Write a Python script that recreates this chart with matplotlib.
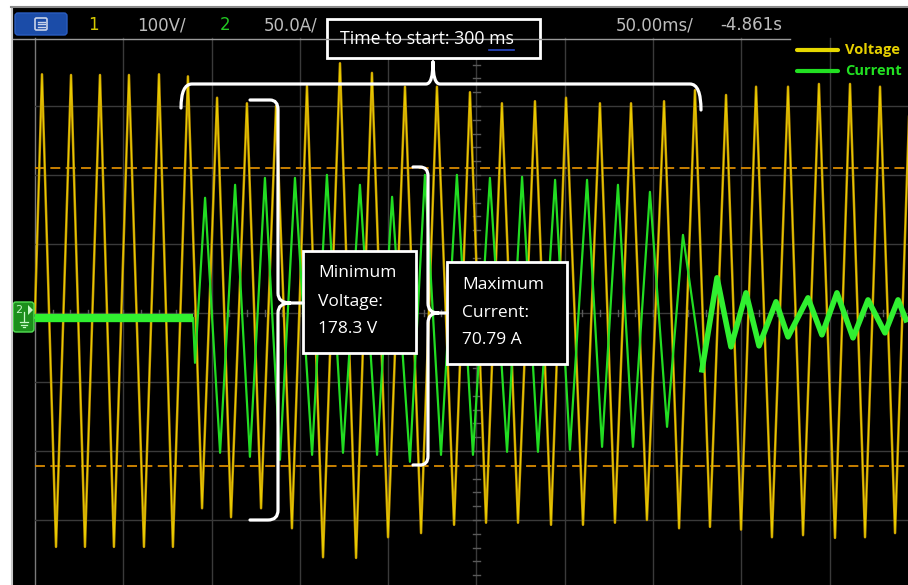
import numpy as np
import matplotlib.pyplot as plt
from matplotlib.patches import Rectangle, FancyBboxPatch, PathPatch
from matplotlib.path import Path

# scope settings
volts_per_div = 100.0
amps_per_div = 50.0
ms_per_div = 50.0
ch2_offset = -0.07          # divisions, current trace sits a bit below centre

# Voltage trace, peaks/troughs (ms, V)
volt_t = [0.0, 3.96, 11.9, 20.4, 28.3, 36.8, 44.7, 53.2, 61.7, 70.2, 78.1,
          86.6, 94.6, 103.1, 111.0, 120.0, 128.0, 136.5, 145.5, 154.0, 163.1,
          172.7, 181.8, 190.8, 199.9, 209.5, 218.6, 227.6, 237.3, 246.3, 255.4,
          264.4, 273.5, 283.1, 292.2, 300.7, 310.3, 319.9, 328.4, 337.5, 346.5,
          356.2, 364.7, 373.7, 382.2, 391.3, 399.8, 408.3, 417.3, 426.4, 434.9,
          443.9, 453.0, 461.5, 470.0, 478.5, 487.0, 495.5]
volt_v = [0, 346, -339, 345, -339, 345, -339, 345, -339, 346, -339,
          343, -283, 312, -296, 304, -283, 300, -312, 329, -354,
          362, -355, 348, -325, 328, -319, 328, -307, 320, -304,
          304, -304, 307, -307, 312, -307, 304, -304, 304, -300,
          307, -312, 323, -310, 316, -314, 328, -325, 328, -322,
          332, -326, 332, -325, 328, -319, 330]

# Current trace (ms, A)
curr_t = [0.0, 89.5, 90.6, 96.3, 104.8, 113.3, 121.7, 130.2, 138.7, 147.2,
          156.9, 165.3, 174.4, 184.0, 193.7, 202.2, 212.3, 220.8, 229.9, 238.9,
          248.0, 257.6, 267.3, 275.8, 284.8, 294.5, 302.9, 312.6, 321.1, 330.1,
          338.6, 348.2, 357.9, 366.9, 377.7, 386.2, 394.1, 402.6, 410.0, 419.6,
          426.4, 437.7, 445.6, 454.1, 463.2, 471.7, 481.3, 488.7, 493.2]
curr_a = [0, 0, -32.6, 87.0, -97.8, 96.4, -100.7, 101.4, -102.9, 101.4,
          -99.3, 103.6, -97.8, 96.4, -99.3, 87.7, -104.3, 103.6, -99.3, 103.6,
          -99.3, 101.4, -97.1, 102.2, -97.1, 100.0, -95.6, 100.0, -93.5, 96.4,
          -93.5, 91.3, -79.0, 60.1, -37.7, 29.0, -21.0, 18.1, -20.3, 11.6,
          -13.8, 14.5, -12.3, 18.1, -14.5, 13.0, -10.9, 13.0, -1.4]

cursor_levels = [2.10, -2.22]   # orange cursors, divisions

# screen geometry (pixels)
W, H = 908, 585
X0, Y0 = 35, 313          # t=0, 0 div
PXX, PXY = 88.3, 69.0     # pixels per division
SCR_L, SCR_T = 11, 7      # black screen starts here

fig = plt.figure(figsize=(W / 100, H / 100), dpi=100, facecolor='white')

ax = fig.add_axes([SCR_L / W, 0, (W - SCR_L) / W, (H - SCR_T) / H])
ax.set_facecolor('black')
ax.set_xlim((SCR_L - X0) / PXX * ms_per_div, (W - X0) / PXX * ms_per_div)
ax.set_ylim((Y0 - H) / PXY, (Y0 - SCR_T) / PXY)
ax.set_axis_off()
ax.add_patch(Rectangle((0, 0), 1, 1, transform=ax.transAxes, color='black', zorder=0))

top_div = (Y0 - 38) / PXY
# grid
for i in range(10):
    c = '#7a7a7a' if i == 0 else '#3a3a3a'
    ax.plot([i * ms_per_div] * 2, [-5, top_div], color=c, lw=1, zorder=1)
for j in range(-3, 4):
    ax.plot([0, 600], [j, j], color='#3a3a3a', lw=1, zorder=1)
# centre-axis minor ticks
for k in np.arange(-4, 4.01, 0.2):
    ax.plot([5 * ms_per_div - 1.8, 5 * ms_per_div + 1.8], [k, k], color='#5a5a5a', lw=1, zorder=1)
for k in np.arange(0, 500, 10):
    ax.plot([k, k], [-0.05, 0.05], color='#5a5a5a', lw=1, zorder=1)

# cursors
for lvl in cursor_levels:
    ax.plot([0, 600], [lvl, lvl], color='#d98a00', lw=1.3, dashes=(5.5, 3), zorder=2)

vt = np.array(volt_t)
vv = np.array(volt_v) / volts_per_div
ax.plot(vt, vv, color='#c29400', lw=1.8, zorder=3)
ax.plot(vt, vv, color='#f0d800', lw=0.6, zorder=3)

ct = np.array(curr_t)
ca = np.array(curr_a) / amps_per_div + ch2_offset
ax.plot(ct, ca, color='#22dd22', lw=1.6, zorder=4)
ax.plot(ct[:2], ca[:2], color='#30f030', lw=6, zorder=4, solid_capstyle='butt')
tail = ct >= 377.7
ax.plot(ct[tail], ca[tail], color='#30f030', lw=4, zorder=4)

# ---- overlay in pixel coordinates ----
ov = fig.add_axes([0, 0, 1, 1], zorder=5)
ov.set_xlim(0, W)
ov.set_ylim(H, 0)
ov.set_axis_off()
ov.patch.set_alpha(0)

ov.plot([SCR_L + 0.5, SCR_L + 0.5], [SCR_T, H], color='#c8c8c8', lw=1.5)
ov.plot([SCR_L, W], [SCR_T, SCR_T], color='#8a8a8a', lw=1.5)
ov.plot([13, 790], [39, 39], color='#9a9a9a', lw=1)

# header
ov.add_patch(FancyBboxPatch((15, 13), 52, 22, boxstyle='round,pad=0,rounding_size=3',
                            fc='#1b4ca8', ec='#2a5cc0', lw=1))
ov.add_patch(FancyBboxPatch((35, 18), 12, 12, boxstyle='round,pad=0,rounding_size=1.5',
                            fc='none', ec='#c9d3ea', lw=1.2))
for yy in (21.5, 24, 26.5):
    ov.plot([37.5, 44.5], [yy, yy], color='#c9d3ea', lw=1)

hfont = ['Liberation Sans Narrow', 'DejaVu Sans']
header = [("1", 93, '#d4c800'), ("100V/", 161, '#bdbdbd'), ("2", 225, '#22c822'),
          ("50.0A/", 291, '#bdbdbd'), ("50.00ms/", 655, '#bdbdbd'), ("-4.861s", 751, '#bdbdbd')]
for txt, xx, col in header:
    ov.text(xx, 25, txt, color=col, fontsize=12, family=hfont, ha='center', va='center')

# legend
ov.plot([797, 838], [49.5, 49.5], color='#e6d800', lw=3, solid_capstyle='round')
ov.plot([797, 838], [71, 71], color='#22e022', lw=3, solid_capstyle='round')
ov.text(845, 50, "Voltage", color='#e6d000', fontsize=10.5, fontweight='bold', family='Open Sans', va='center')
ov.text(845, 71, "Current", color='#22e022', fontsize=10.5, fontweight='bold', family='Open Sans', va='center')

# ch2 ground marker
ov.add_patch(FancyBboxPatch((13, 302), 21, 30, boxstyle='round,pad=0,rounding_size=3',
                            fc='#1c8f1c', ec='#52e052', lw=1))
ov.text(19, 310, "2", color='#c8f8c8', fontsize=8, ha='center', va='center')
ov.plot([24, 24], [312, 322], color='#c8f8c8', lw=0.9)
for dx, yy in ((4, 322), (2.7, 324.5), (1.4, 327)):
    ov.plot([24 - dx, 24 + dx], [yy, yy], color='#c8f8c8', lw=0.9)
ov.add_patch(plt.Polygon([[28, 305], [33, 310], [28, 315]], closed=True, fc='#c8f8c8', ec='none'))

# annotation boxes
afont = 'Open Sans'
ov.add_patch(Rectangle((327, 19), 213, 39, fc='black', ec='white', lw=2))
t_main = ov.text(340, 39, "Time to start: 300 ms", color='white', fontsize=12.8, family=afont, va='center')
t_ms = ov.text(400, 300, "ms", fontsize=12.8, family=afont)
fig.canvas.draw()
r = fig.canvas.get_renderer()
inv = ov.transData.inverted()
bb = t_main.get_window_extent(r)
bm = t_ms.get_window_extent(r)
t_ms.remove()
x_end = inv.transform((bb.x1, 0))[0]
x_start = inv.transform((bb.x1 - bm.width, 0))[0]
ov.plot([x_start, x_end], [50, 50], color='#2a48c8', lw=1.2)

ov.add_patch(Rectangle((303, 251), 113, 102, fc='black', ec='white', lw=2))
for yy, txt in zip((273, 302, 329), ("Minimum", "Voltage:", "178.3 V")):
    ov.text(318, yy, txt, color='white', fontsize=12.5, family=afont, va='center')

ov.add_patch(Rectangle((447, 262), 120, 102, fc='black', ec='white', lw=2))
for yy, txt in zip((285, 313, 340), ("Maximum", "Current:", "70.79 A")):
    ov.text(462, yy, txt, color='white', fontsize=12.5, family=afont, va='center')

M, L, C = Path.MOVETO, Path.LINETO, Path.CURVE3
braces = [
    ([(181, 108), (181, 84), (192, 84), (426, 84), (433, 84), (433, 62),
      (433, 62), (433, 84), (440, 84), (690, 84), (701, 84), (701, 110)],
     [M, C, C, L, C, C, M, C, C, L, C, C]),
    ([(250, 100), (270, 100), (278, 100), (278, 110), (278, 293), (278, 303), (290, 303), (303, 303),
      (290, 303), (278, 303), (278, 313), (278, 510), (278, 520), (268, 520), (250, 520)],
     [M, L, C, C, L, C, C, L, M, C, C, L, C, C, L]),
    ([(413, 167), (420, 167), (428, 167), (428, 176), (428, 303), (428, 313), (438, 313), (447, 313),
      (438, 313), (428, 313), (428, 323), (428, 456), (428, 465), (420, 465), (413, 465)],
     [M, L, C, C, L, C, C, L, M, C, C, L, C, C, L]),
]
for verts, codes in braces:
    ov.add_patch(PathPatch(Path(verts, codes), fc='none', ec='white', lw=2.3, capstyle='round'))

fig.savefig('out.png', dpi=100, facecolor='white')
